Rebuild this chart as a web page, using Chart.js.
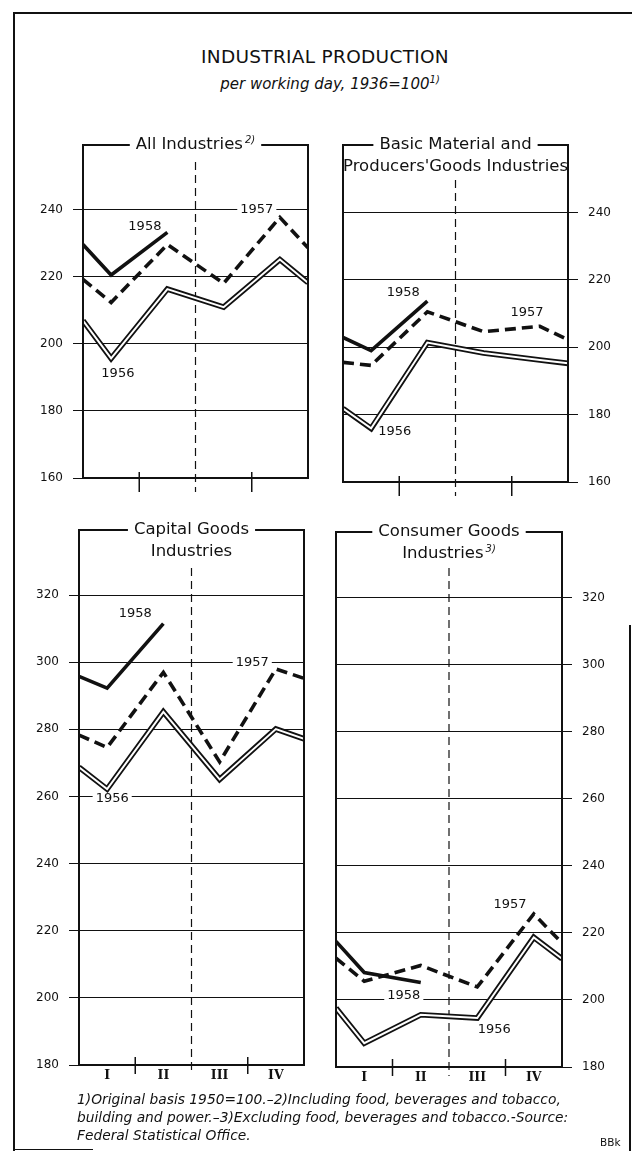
<!DOCTYPE html>
<html>
<head>
<meta charset="utf-8">
<script src="https://cdn.jsdelivr.net/npm/chart.js@4.4.1/dist/chart.umd.min.js"></script>
<style>
  html, body { margin: 0; padding: 0; background: #fff; }
  body { width: 632px; height: 1151px; position: relative; overflow: hidden; font-family: "DejaVu Sans", sans-serif; color: #111; }
  .abs { position: absolute; }
  canvas { position: absolute; }
  .rule { position: absolute; background: #111; }
  #title { left: 9px; width: 632px; top: 46px; text-align: center; font-size: 18.5px; letter-spacing: 0.3px; }
  #subtitle { left: 14px; width: 632px; top: 74px; text-align: center; font-size: 15px; font-style: italic; }
  #subtitle sup { font-size: 10px; }
  #notes { left: 77px; top: 1090px; font-size: 13.8px; font-style: italic; line-height: 18px; white-space: nowrap; }
  #bbk { left: 600px; top: 1136px; font-size: 10.5px; }
</style>
</head>
<body>
<div class="rule" style="left:13px;top:12px;width:619px;height:2px"></div>
<div class="rule" style="left:13px;top:12px;width:2px;height:1139px"></div>
<div class="rule" style="left:629px;top:625px;width:2px;height:526px"></div>
<div class="rule" style="left:13px;top:1149px;width:80px;height:1px"></div>

<div id="title" class="abs">INDUSTRIAL PRODUCTION</div>
<div id="subtitle" class="abs">per working day, 1936=100<sup>1)</sup></div>

<canvas id="c1" width="316" height="380" style="left:0;top:120px"></canvas>
<canvas id="c2" width="316" height="380" style="left:316px;top:120px"></canvas>
<canvas id="c3" width="316" height="590" style="left:0;top:505px"></canvas>
<canvas id="c4" width="316" height="590" style="left:316px;top:505px"></canvas>

<div id="notes" class="abs">1)Original basis 1950=100.–2)Including food, beverages and tobacco,<br>building and power.–3)Excluding food, beverages and tobacco.-Source:<br>Federal Statistical Office.</div>
<div id="bbk" class="abs">BBk</div>

<script>
// x values: start of year (edge), the four quarters, end of year (edge)
const xPoints = [0, 0.5, 1.5, 2.5, 3.5, 4];
const quarters = ['I', 'II', 'III', 'IV'];

// All industries
const allInd1956 = [207.0, 195.7, 216.4, 211.0, 225.2, 218.3];
const allInd1957 = [219.3, 212.4, 229.7, 218.1, 237.8, 228.7];
const allInd1958 = [229.7, 220.6, 233.3];

// Basic material and producers' goods
const basic1956 = [181.8, 175.9, 201.4, 198.3, 196.2, 195.2];
const basic1957 = [195.5, 194.6, 210.5, 204.6, 206.2, 202.2];
const basic1958 = [202.9, 199.0, 213.7];

// Capital goods
const capital1956 = [268.7, 262.2, 285.2, 265.1, 280.1, 277.2];
const capital1957 = [278.3, 274.6, 297.0, 270.3, 298.0, 295.2];
const capital1958 = [295.8, 292.3, 311.5];

// Consumer goods
const consumer1956 = [197.6, 187.1, 195.6, 194.6, 218.7, 212.3];
const consumer1957 = [212.5, 205.6, 210.3, 203.9, 225.7, 217.0];
const consumer1958 = [217.5, 208.2, 205.2];

const INK = '#111';
const FONT = '"DejaVu Sans"';

// frame, title, mid-year dashed line, quarter ticks and year labels
const framePlugin = {
  id: 'frame',
  beforeDatasetsDraw(chart, args, o) {
    const { ctx, chartArea: a, scales: { x, y } } = chart;
    ctx.save();
    ctx.strokeStyle = INK;
    ctx.lineWidth = 1.2;
    ctx.setLineDash([8, 5]);
    const mx = x.getPixelForValue(2);
    ctx.beginPath();
    ctx.moveTo(mx, a.top + o.dashTop);
    ctx.lineTo(mx, a.bottom + o.tickDown);
    ctx.stroke();
    ctx.setLineDash([]);

    ctx.font = '13px ' + FONT;
    ctx.textAlign = 'center';
    ctx.textBaseline = 'middle';
    o.years.forEach(([text, xv, yv]) => {
      const px = x.getPixelForValue(xv);
      const py = y.getPixelForValue(yv);
      const w = ctx.measureText(text).width;
      ctx.fillStyle = '#fff';
      ctx.fillRect(px - w / 2 - 3, py - 5, w + 6, 10);
      ctx.fillStyle = INK;
      ctx.fillText(text, px, py);
    });
    ctx.restore();
  },
  afterDatasetsDraw(chart, args, o) {
    const { ctx, chartArea: a, scales: { x } } = chart;
    ctx.save();
    ctx.strokeStyle = INK;
    ctx.fillStyle = INK;

    // quarter boundary ticks
    ctx.lineWidth = 1.5;
    [1, 3].forEach(q => {
      const px = x.getPixelForValue(q);
      ctx.beginPath();
      ctx.moveTo(px, a.bottom - o.tickUp);
      ctx.lineTo(px, a.bottom + o.tickDown);
      ctx.stroke();
    });

    // title, footnote mark on its last line
    const main = '16.5px ' + FONT;
    const supFont = 'italic 10px ' + FONT;
    ctx.textBaseline = 'middle';
    ctx.textAlign = 'left';
    const cx = (a.left + a.right) / 2;
    let firstW = 0;
    o.title.forEach((t, i) => {
      const last = i === o.title.length - 1;
      ctx.font = main;
      const w = ctx.measureText(t).width;
      let sw = 0;
      if (last && o.sup) {
        ctx.font = supFont;
        sw = ctx.measureText(o.sup).width + 2;
      }
      const x0 = cx - (w + sw) / 2;
      const yy = a.top + i * 22;
      ctx.font = main;
      ctx.fillText(t, x0, yy);
      if (sw) {
        ctx.font = supFont;
        ctx.fillText(o.sup, x0 + w + 2, yy - 5);
      }
      if (i === 0) firstW = w + sw;
    });

    // frame
    ctx.lineWidth = 2;
    ctx.beginPath();
    ctx.moveTo(cx - firstW / 2 - 6, a.top);
    ctx.lineTo(a.left, a.top);
    ctx.lineTo(a.left, a.bottom);
    ctx.lineTo(a.right, a.bottom);
    ctx.lineTo(a.right, a.top);
    ctx.lineTo(cx + firstW / 2 + 6, a.top);
    ctx.stroke();
    ctx.restore();
  }
};

const panels = [
  {
    id: 'c1', title: ['All Industries'], sup: '2)',
    yMin: 160, yMax: 259.4, side: 'left', axisWidth: 83,
    pad: { left: 0, right: 8, top: 25, bottom: 22 }, xHeight: 0, showQuarters: false,
    dashTop: 17, tickUp: 6, tickDown: 14,
    series: [allInd1956, allInd1957, allInd1958],
    years: [['1958', 1.1, 234.9], ['1957', 3.09, 240], ['1956', 0.62, 191.3]]
  },
  {
    id: 'c2', title: ['Basic Material and', "Producers'Goods Industries"],
    yMin: 160, yMax: 260, side: 'right', axisWidth: 64,
    pad: { left: 27, right: 0, top: 25, bottom: 18 }, xHeight: 0, showQuarters: false,
    dashTop: 35, tickUp: 6, tickDown: 14,
    series: [basic1956, basic1957, basic1958],
    years: [['1958', 1.07, 216.2], ['1957', 3.27, 210.3], ['1956', 0.92, 174.9]]
  },
  {
    id: 'c3', title: ['Capital Goods', 'Industries'],
    yMin: 180, yMax: 339.4, side: 'left', axisWidth: 79,
    pad: { left: 0, right: 12, top: 25, bottom: 0 }, xHeight: 30, showQuarters: true,
    dashTop: 38, tickUp: 8, tickDown: 9,
    series: [capital1956, capital1957, capital1958],
    years: [['1958', 1.0, 314.6], ['1957', 3.08, 300], ['1956', 0.59, 259.5]]
  },
  {
    id: 'c4', title: ['Consumer Goods', 'Industries'], sup: '3)',
    yMin: 180, yMax: 339.7, side: 'right', axisWidth: 70,
    pad: { left: 20, right: 0, top: 27, bottom: 0 }, xHeight: 28, showQuarters: true,
    dashTop: 36, tickUp: 8, tickDown: 9,
    series: [consumer1956, consumer1957, consumer1958],
    years: [['1957', 3.08, 228.4], ['1958', 1.2, 201.2], ['1956', 2.8, 191.3]]
  }
];

function makePanel(p) {
  const [s56, s57, s58] = p.series;
  const pts = vals => vals.map((v, i) => ({ x: xPoints[i], y: v }));
  new Chart(document.getElementById(p.id), {
    type: 'line',
    data: {
      datasets: [
        { label: '1956 core', data: pts(s56), borderColor: '#fff', borderWidth: 2, order: 0 },
        { label: '1956', data: pts(s56), borderColor: INK, borderWidth: 5.6, order: 1 },
        { label: '1957', data: pts(s57), borderColor: INK, borderWidth: 3.6, borderDash: [11, 6], order: 2 },
        { label: '1958', data: pts(s58), borderColor: INK, borderWidth: 3.6, order: 3 }
      ]
    },
    options: {
      responsive: false,
      animation: false,
      devicePixelRatio: 1,
      layout: { padding: p.pad },
      elements: {
        point: { radius: 0 },
        line: { tension: 0, borderJoinStyle: 'miter', borderCapStyle: 'butt', fill: false }
      },
      plugins: {
        legend: { display: false },
        tooltip: { enabled: false },
        frame: { title: p.title, sup: p.sup, years: p.years, dashTop: p.dashTop, tickUp: p.tickUp, tickDown: p.tickDown }
      },
      scales: {
        x: {
          type: 'linear', min: 0, max: 4, display: p.showQuarters,
          afterBuildTicks: s => { s.ticks = quarters.map((q, i) => ({ value: i + 0.5 })); },
          ticks: {
            callback: v => quarters[Math.floor(v)],
            font: { family: 'DejaVu Serif', size: 12.5, weight: 'bold' },
            color: INK, padding: 3, autoSkip: false, maxRotation: 0
          },
          grid: { display: false, drawTicks: false },
          border: { display: false },
          afterFit: s => { s.height = p.xHeight; }
        },
        y: {
          type: 'linear', min: p.yMin, max: p.yMax, position: p.side,
          afterBuildTicks: s => {
            const t = [];
            for (let v = p.yMin; v < p.yMax - 1; v += 20) t.push({ value: v });
            s.ticks = t;
          },
          ticks: { font: { family: 'DejaVu Sans', size: 12 }, color: INK, padding: 10 },
          grid: { color: INK, lineWidth: 1, tickLength: 10 },
          border: { display: false },
          afterFit: s => { s.width = p.axisWidth; }
        }
      }
    },
    plugins: [framePlugin]
  });
}

panels.forEach(makePanel);
</script>
</body>
</html>
